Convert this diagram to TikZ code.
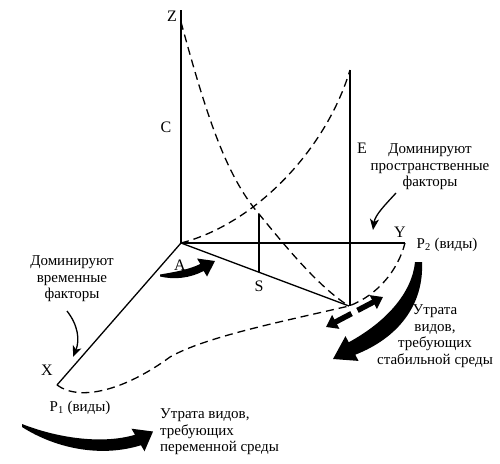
\documentclass[tikz,border=0pt]{standalone}
\usepackage{fontspec}
\setmainfont{Liberation Serif}
\usetikzlibrary{arrows.meta}
\begin{document}
\begin{tikzpicture}[x=1pt,y=-1pt,
  axis/.style={line width=1.3pt},
  dcurve/.style={line width=1.3pt, dash pattern=on 8pt off 5pt},
  lbl/.style={font=\fontsize{16}{18}\selectfont, inner sep=0pt},
  txt/.style={font=\fontsize{15}{16.5}\selectfont, align=center, inner sep=0pt},
  thinarrow/.style={line width=1.3pt, -{Stealth[length=11pt,width=9pt,inset=3pt]}},
  bigfill/.style={fill=black, draw=none},
  dblarrow/.style={line width=5.5pt, -{Triangle[length=11pt,width=15pt]}}]
\useasboundingbox (0,0) rectangle (500,463);
% points
\coordinate (O) at (181,243);
\coordinate (Z) at (181,10);
\coordinate (Yend) at (405,243);
\coordinate (Xend) at (57,385);
\coordinate (K) at (349,306);
\coordinate (Etop) at (350,70);
\coordinate (Ebot) at (350,306);
\coordinate (Stop) at (259,214);
\coordinate (Sbot) at (259,272.2);
\coordinate (Zc) at (181,22);
% axes
\draw[axis] (O) -- (Z);
\draw[axis] (O) -- (Yend);
\draw[axis] (O) -- (Xend);
\draw[axis] (O) -- (K);
\draw[axis] (Etop) -- (Ebot);
\draw[axis] (Stop) -- (Sbot);
% dashed curves
\draw[dcurve] (Zc) .. controls (205,110) and (225,175) .. (Stop)
  .. controls (282,242) and (318,287) .. (K);
\draw[dcurve] (O) .. controls (255,224) and (326,150) .. (Etop);
\draw[dcurve] (Xend) .. controls (80,402) and (125,390) .. (170,357)
  .. controls (205,337) and (280,322) .. (K)
  .. controls (378,295) and (398,270) .. (Yend);
% labels
\node[lbl] (lZ) at (172,16) {Z};
\node[lbl] (lC) at (166,127) {C};
\node[lbl] (lE) at (362,148) {E};
\node[lbl] (lY) at (400,232) {Y};
\node[lbl] (lA) at (180,265) {A};
\node[lbl] (lS) at (259,286) {S};
\node[lbl] (lX) at (47,370) {X};
\node[txt] (p1) at (80,408) {P\textsubscript{1} (виды)};
\node[txt] (p2) at (447,245) {P\textsubscript{2} (виды)};
\node[txt] (tt) at (72,279) {Доминируют\\временные\\факторы};
\node[txt] (st) at (430,167) {Доминируют\\пространственные\\факторы};
\node[txt] (stab) at (435,336) {Утрата\\видов,\\требующих\\стабильной среды};
\node[txt, align=left, anchor=west] (var) at (160,432) {Утрата видов,\\требующих\\переменной среды};
% thin arrows
\coordinate (t1) at (67,311);
\coordinate (t2) at (73,357);
\draw[thinarrow] (t1) .. controls (78,325) and (80,340) .. (t2);
\coordinate (s1) at (396,193);
\coordinate (s2) at (373,230);
\draw[thinarrow] (s1) .. controls (385,205) and (375,215) .. (s2);
% big arrows
\fill[bigfill] (160,274.5) .. controls (175,272) and (189,269.5) .. (200.3,264)
  -- (197,258.5) -- (215,261) -- (207,276.5) -- (203.7,271)
  .. controls (190,278) and (175,280) .. (160,276.5) -- cycle;
\fill[bigfill] (22,424) .. controls (55,437) and (100,445) .. (135,434.8)
  -- (131.5,428.7) -- (153,431.5) -- (144.5,451.3) -- (141,445.2)
  .. controls (100,458) and (55,448) .. (22,427) -- cycle;
\fill[bigfill] (422,262) .. controls (424,305) and (398,338) .. (355.3,354.7)
  -- (358.5,360.9) -- (333,359) -- (345.5,336.1) -- (348.7,342.3)
  .. controls (386,322) and (412,293) .. (415,262) -- cycle;
% double arrow near corner
\coordinate (d1) at (351.5,313.6);
\coordinate (d2) at (326,327);
\coordinate (d3) at (357.5,310.4);
\coordinate (d4) at (383,297);
\draw[dblarrow] (d1) -- (d2);
\draw[dblarrow] (d3) -- (d4);
\end{tikzpicture}
\end{document}
